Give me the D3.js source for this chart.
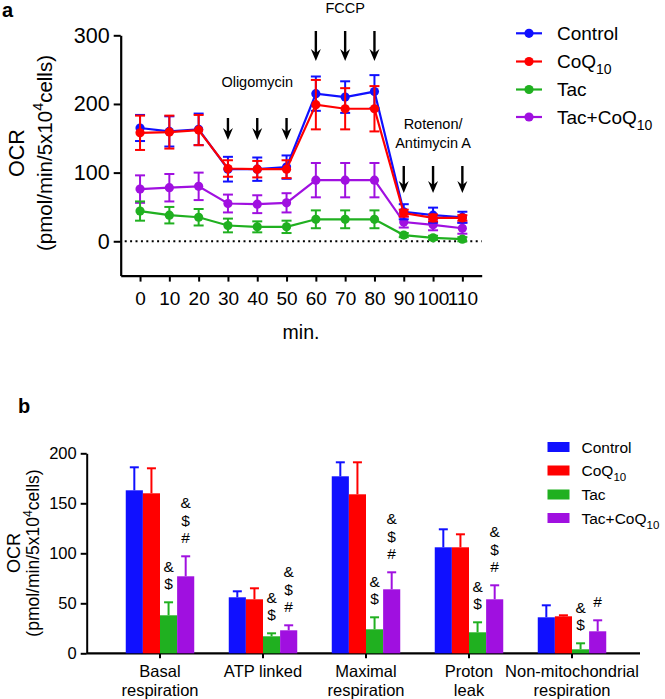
<!DOCTYPE html>
<html>
<head>
<meta charset="utf-8">
<script src="https://cdn.jsdelivr.net/npm/d3@7"></script>
<style>
  html, body { margin: 0; padding: 0; background: #fff; }
  svg { display: block; font-family: "Liberation Sans", Arial, Helvetica, sans-serif; }
</style>
</head>
<body>
<svg id="chart" width="665" height="699"></svg>
<script>
// ---------- Panel a data ----------
const times = [0, 10, 20, 30, 40, 50, 60, 70, 80, 90, 100, 110];
const controlMean = [165, 160, 163, 105, 105, 108, 215, 210, 218, 43, 38, 35];
const controlErr  = [19, 22, 23, 18, 17, 17, 25, 23, 24, 11, 11, 8];
const coqMean     = [158, 159, 162, 106, 105, 105, 199, 193, 193, 41, 34, 34];
const coqErr      = [25, 24, 22, 12, 12, 13, 36, 30, 33, 5, 5, 4];
const tacMean     = [44, 38, 35, 23, 21, 21, 32, 32, 32, 9, 5, 3];
const tacErr      = [14, 12, 12, 10, 8, 9, 13, 13, 13, 3, 3, 3];
const tacCoqMean  = [76, 78, 80, 55, 54, 56, 89, 89, 89, 28, 24, 19];
const tacCoqErr   = [20, 20, 20, 13, 13, 14, 25, 25, 25, 8, 8, 8];
const yTicksA = [0, 100, 200, 300];

const seriesNames = ["Control", "CoQ10", "Tac", "Tac+CoQ10"];
const seriesColors = ["#1010ff", "#ff0000", "#20b020", "#a010e0"];

const injections = [
  { label: ["Oligomycin"], times: [30, 40, 50] },
  { label: ["FCCP"], times: [60, 70, 80] },
  { label: ["Rotenon/", "Antimycin A"], times: [90, 100, 110] }
];

// ---------- Panel b data ----------
const categories = [["Basal", "respiration"], ["ATP linked"], ["Maximal", "respiration"], ["Proton", "leak"], ["Non-mitochondrial", "respiration"]];
const barControl = [163, 56, 177, 106, 36];
const errControl = [23, 6, 14, 18, 12];
const barCoq     = [160, 54, 159, 106, 37];
const errCoq     = [25, 11, 32, 13, 1];
const barTac     = [38, 17, 24, 21, 4];
const errTac     = [13, 3, 12, 10, 6];
const barTacCoq  = [77, 23, 64, 54, 22];
const errTacCoq  = [20, 5, 17, 14, 11];
const signifTac    = [["&", "$"], ["&", "$"], ["&", "$"], ["&", "$"], ["&", "$"]];
const signifTacCoq = [["&", "$", "#"], ["&", "$", "#"], ["&", "$", "#"], ["&", "$", "#"], ["#"]];
const yTicksB = [0, 50, 100, 150, 200];

const svg = d3.select("#chart");

// helper: label with subscript "10"
function addLabel(sel, name, subSize) {
  if (name.endsWith("CoQ10")) {
    sel.append("tspan").text(name.slice(0, -2));
    sel.append("tspan").attr("font-size", subSize).attr("dy", subSize * 0.45).text("10");
  } else {
    sel.text(name);
  }
}
function addYTitle(g, x1, x2, yc, s1, s2) {
  g.append("text").attr("transform", `translate(${x1},${yc}) rotate(-90)`)
    .attr("text-anchor", "middle").attr("font-size", s1).text("OCR");
  const t = g.append("text").attr("transform", `translate(${x2},${yc}) rotate(-90)`)
    .attr("text-anchor", "middle").attr("font-size", s2);
  t.append("tspan").text("(pmol/min/5x10");
  t.append("tspan").attr("font-size", s2 * 0.7).attr("dy", -s2 * 0.42).text("4");
  t.append("tspan").attr("dy", s2 * 0.42).text("cells)");
}

// ================= Panel a =================
const xA = d3.scaleLinear().domain([-6.6, 116.6]).range([120.7, 481.7]);
const yA = d3.scaleLinear().domain([-50, 300]).range([275.6, 35.3]);
const gA = svg.append("g");

svg.append("text").attr("x", 2).attr("y", 17).attr("font-size", 20).attr("font-weight", "bold").text("a");

// axes
const yAxisA = d3.axisLeft(yA).tickValues(yTicksA).tickSize(7).tickSizeOuter(0).tickPadding(4);
const yAx = gA.append("g").attr("transform", `translate(${xA.range()[0]},0)`).call(yAxisA);
yAx.select(".domain").attr("stroke-width", 2.2);
yAx.selectAll(".tick line").attr("stroke-width", 2);
yAx.selectAll("text").attr("font-size", 21.5).attr("font-family", null);

const xAxisA = d3.axisBottom(xA).tickValues(times).tickSize(6).tickSizeOuter(0).tickPadding(10);
const xAx = gA.append("g").attr("transform", `translate(0,${yA(-50)})`).call(xAxisA);
xAx.select(".domain").attr("stroke-width", 2.2);
xAx.selectAll(".tick line").attr("stroke-width", 2);
xAx.selectAll("text").attr("font-size", 19).attr("font-family", null);
svg.selectAll(".tick text").attr("fill", "#000");

gA.append("text").attr("x", 301).attr("y", 339).attr("text-anchor", "middle").attr("font-size", 19.5).text("min.");

addYTitle(gA, 24, 52, 153, 21.5, 20.5);

// zero dotted line
gA.append("line").attr("x1", xA.range()[0] + 4).attr("x2", xA.range()[1])
  .attr("y1", yA(0)).attr("y2", yA(0))
  .attr("stroke", "#000").attr("stroke-width", 2).attr("stroke-dasharray", "2,3.4");

// series
const seriesA = [
  { mean: controlMean, err: controlErr },
  { mean: coqMean, err: coqErr },
  { mean: tacMean, err: tacErr },
  { mean: tacCoqMean, err: tacCoqErr }
];
const drawOrder = [3, 2, 0, 1];
const line = d3.line().x(d => xA(d.t)).y(d => yA(d.v));
drawOrder.forEach(si => {
  const s = seriesA[si];
  const col = seriesColors[si];
  const pts = times.map((t, i) => ({ t, v: s.mean[i], e: s.err[i] }));
  const g = gA.append("g");
  g.append("path").datum(pts).attr("d", line).attr("fill", "none").attr("stroke", col).attr("stroke-width", 2.2);
  pts.forEach(p => {
    const x = xA(p.t);
    g.append("line").attr("x1", x).attr("x2", x).attr("y1", yA(p.v - p.e)).attr("y2", yA(p.v + p.e)).attr("stroke", col).attr("stroke-width", 2);
    [p.v - p.e, p.v + p.e].forEach(v => {
      g.append("line").attr("x1", x - 5).attr("x2", x + 5).attr("y1", yA(v)).attr("y2", yA(v)).attr("stroke", col).attr("stroke-width", 2);
    });
    g.append("circle").attr("cx", x).attr("cy", yA(p.v)).attr("r", 4.6).attr("fill", col);
  });
});

// injection arrows & labels
const arrowSpecs = [
  { top: 118, tip: 140, labelY: [87] },
  { top: 31, tip: 61, labelY: [13] },
  { top: 166, tip: 193, labelY: [129, 148] }
];
injections.forEach((inj, k) => {
  const sp = arrowSpecs[k];
  inj.times.forEach(t => {
    const x = xA(t);
    gA.append("line").attr("x1", x).attr("x2", x).attr("y1", sp.top).attr("y2", sp.tip - 6).attr("stroke", "#000").attr("stroke-width", 2.4);
    gA.append("path").attr("d", `M${x - 5},${sp.tip - 12} L${x},${sp.tip} L${x + 5},${sp.tip - 12} L${x},${sp.tip - 8} Z`).attr("fill", "#000");
  });
  const cx = xA(inj.times[1]);
  inj.label.forEach((lab, j) => {
    gA.append("text").attr("x", cx).attr("y", sp.labelY[j]).attr("text-anchor", "middle").attr("font-size", 14.5).text(lab);
  });
});

// legend a
const legA = svg.append("g");
const legAy = [33.3, 61.5, 89.5, 117];
seriesNames.forEach((n, i) => {
  const y = legAy[i];
  legA.append("line").attr("x1", 516).attr("x2", 542).attr("y1", y).attr("y2", y).attr("stroke", seriesColors[i]).attr("stroke-width", 2.2);
  legA.append("circle").attr("cx", 529).attr("cy", y).attr("r", 4.6).attr("fill", seriesColors[i]);
  const t = legA.append("text").attr("x", 557).attr("y", y + 6.5).attr("font-size", 19);
  addLabel(t, n, 14);
});

// ================= Panel b =================
const gB = svg.append("g");
svg.append("text").attr("x", 18).attr("y", 413).attr("font-size", 20).attr("font-weight", "bold").text("b");

const yB = d3.scaleLinear().domain([0, 200]).range([653.3, 453.3]);
const xB = d3.scaleBand().domain(d3.range(categories.length)).range([108.5, 623.5]).paddingInner(0.335).paddingOuter(0.1675);
const xSub = d3.scaleBand().domain(d3.range(4)).range([0, xB.bandwidth()]);

const yAxisB = d3.axisLeft(yB).tickValues(yTicksB).tickSize(6).tickSizeOuter(0).tickPadding(4);
const yBx = gB.append("g").attr("transform", "translate(86.7,0)").call(yAxisB);
yBx.select(".domain").attr("stroke-width", 2);
yBx.selectAll(".tick line").attr("stroke-width", 2);
yBx.selectAll("text").attr("font-size", 16.5).attr("font-family", null).attr("fill", "#000");

// x axis b
gB.append("line").attr("x1", 86.7).attr("x2", 640).attr("y1", yB(0)).attr("y2", yB(0)).attr("stroke", "#000").attr("stroke-width", 2.2);
categories.forEach((c, i) => {
  const cx = xB(i) + xB.bandwidth() / 2;
  gB.append("line").attr("x1", cx).attr("x2", cx).attr("y1", yB(0)).attr("y2", yB(0) + 5).attr("stroke", "#000").attr("stroke-width", 2);
  c.forEach((ln, j) => {
    gB.append("text").attr("x", cx).attr("y", 677 + j * 18.5).attr("text-anchor", "middle").attr("font-size", 16.5).text(ln);
  });
});

addYTitle(gB, 20, 39, 553, 18, 17.5);

const seriesB = [
  { v: barControl, e: errControl },
  { v: barCoq, e: errCoq },
  { v: barTac, e: errTac },
  { v: barTacCoq, e: errTacCoq }
];
seriesB.forEach((s, si) => {
  const col = seriesColors[si];
  s.v.forEach((v, i) => {
    const x0 = xB(i) + xSub(si);
    const w = xSub.bandwidth();
    const cx = x0 + w / 2;
    gB.append("line").attr("x1", cx).attr("x2", cx).attr("y1", yB(v)).attr("y2", yB(v + s.e[i])).attr("stroke", col).attr("stroke-width", 2);
    gB.append("line").attr("x1", cx - 4.5).attr("x2", cx + 4.5).attr("y1", yB(v + s.e[i])).attr("y2", yB(v + s.e[i])).attr("stroke", col).attr("stroke-width", 2);
    gB.append("rect").attr("x", x0).attr("y", yB(v)).attr("width", w).attr("height", yB(0) - yB(v)).attr("fill", col);
  });
});

// significance marks
[[2, signifTac], [3, signifTacCoq]].forEach(([si, marks]) => {
  marks.forEach((syms, i) => {
    const s = seriesB[si];
    const cx = xB(i) + xSub(si) + xSub.bandwidth() / 2;
    const topY = yB(s.v[i] + s.e[i]);
    const n = syms.length;
    syms.forEach((sym, j) => {
      const yc = topY - 19 - (n - 1 - j) * 17.3;
      gB.append("text").attr("x", cx).attr("y", yc + 5.5).attr("text-anchor", "middle").attr("font-size", 15.5).text(sym);
    });
  });
});

// legend b
const legBy = [447, 470.5, 494.5, 518];
seriesNames.forEach((n, i) => {
  const y = legBy[i];
  svg.append("rect").attr("x", 547.5).attr("y", y - 5).attr("width", 22).attr("height", 10).attr("fill", seriesColors[i]);
  const t = svg.append("text").attr("x", 581.5).attr("y", y + 5.5).attr("font-size", 15.5);
  addLabel(t, n, 11.5);
});
</script>
</body>
</html>
